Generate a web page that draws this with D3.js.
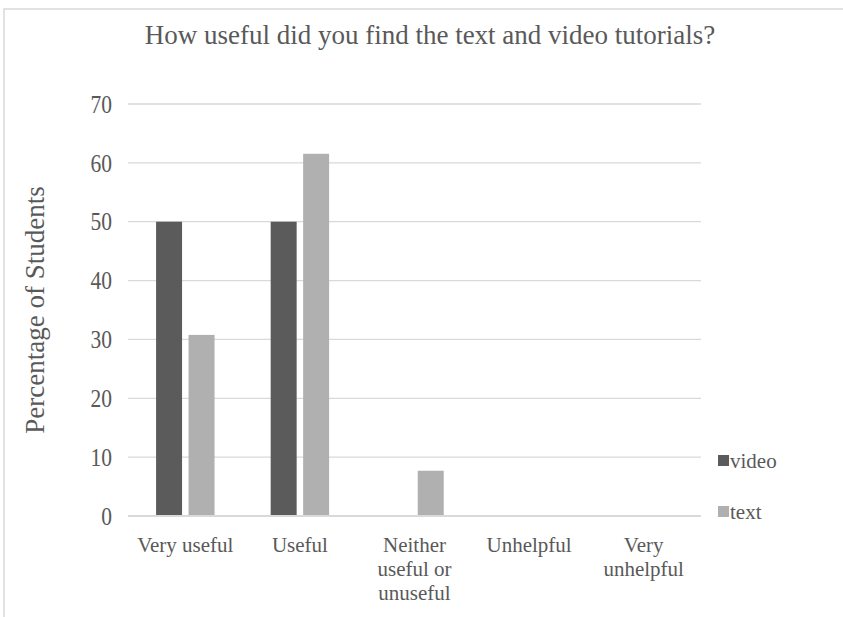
<!DOCTYPE html>
<html>
<head>
<meta charset="utf-8">
<script src="https://cdn.jsdelivr.net/npm/d3@7"></script>
<style>
  body { margin: 0; background: #fff; }
  svg text { font-family: "Liberation Serif", "Times New Roman", serif; fill: #595959; }
</style>
</head>
<body>
<svg id="chart"></svg>
<script>
// ---- data ----
var categories = ["Very useful", "Useful", "Neither useful or unuseful", "Unhelpful", "Very unhelpful"];
var categoryLines = [["Very useful"], ["Useful"], ["Neither", "useful or", "unuseful"], ["Unhelpful"], ["Very", "unhelpful"]];
var seriesNames = ["video", "text"];
var videoValues = [50, 50, 0, 0, 0];
var textValues = [30.77, 61.54, 7.69, 0, 0];
var yTicks = [0, 10, 20, 30, 40, 50, 60, 70];
var colors = {video: "#5b5b5b", text: "#b0b0b0"};

var width = 843, height = 617;
var margin = {top: 104, right: 142, bottom: 101, left: 128};

var svg = d3.select("#chart")
    .attr("width", width)
    .attr("height", height);

// outer chart frame (cut off on right and bottom)
svg.append("rect")
    .attr("x", 4).attr("y", 9)
    .attr("width", width + 20).attr("height", height + 20)
    .attr("fill", "none")
    .attr("stroke", "#d9d9d9")
    .attr("stroke-width", 1.5);

var x0 = d3.scaleBand()
    .domain(categories)
    .range([margin.left, width - margin.right])
    .paddingInner(0.49)
    .paddingOuter(0.245);

var x1 = d3.scaleBand()
    .domain(seriesNames)
    .range([0, x0.bandwidth()])
    .paddingInner(0.2);

var y = d3.scaleLinear()
    .domain([0, 70])
    .range([height - margin.bottom, margin.top]);

// gridlines
svg.append("g")
    .selectAll("line")
    .data(yTicks)
    .enter().append("line")
    .attr("x1", margin.left)
    .attr("x2", width - margin.right)
    .attr("y1", function(d) { return y(d); })
    .attr("y2", function(d) { return y(d); })
    .attr("stroke", "#d9d9d9")
    .attr("stroke-width", function(d) { return d === 0 ? 2 : 1.3; });

// y tick labels (font is a bit condensed in the original)
svg.append("g")
    .selectAll("text")
    .data(yTicks)
    .enter().append("text")
    .attr("transform", function(d) { return "translate(112," + y(d) + ") scale(0.86,1)"; })
    .attr("dy", "0.35em")
    .attr("text-anchor", "end")
    .style("font-size", "25px")
    .text(function(d) { return d; });

// bars
var rows = categories.map(function(c, i) {
  return {cat: c, values: [
    {key: "video", value: videoValues[i]},
    {key: "text", value: textValues[i]}
  ]};
});

var groups = svg.append("g")
    .selectAll("g")
    .data(rows)
    .enter().append("g")
    .attr("transform", function(d) { return "translate(" + x0(d.cat) + ",0)"; });

groups.selectAll("rect")
    .data(function(d) { return d.values.filter(function(v) { return v.value > 0; }); })
    .enter().append("rect")
    .attr("x", function(d) { return x1(d.key); })
    .attr("width", x1.bandwidth())
    .attr("y", function(d) { return y(d.value); })
    .attr("height", function(d) { return y(0) - y(d.value); })
    .attr("fill", function(d) { return colors[d.key]; });

// redraw baseline on top of bars
svg.append("line")
    .attr("x1", margin.left).attr("x2", width - margin.right)
    .attr("y1", y(0)).attr("y2", y(0))
    .attr("stroke", "#d9d9d9").attr("stroke-width", 2);

// category labels
var catLabels = svg.append("g")
    .selectAll("text")
    .data(categories)
    .enter().append("text")
    .attr("x", function(d) { return x0(d) + x0.bandwidth() / 2; })
    .attr("y", 552)
    .attr("text-anchor", "middle")
    .style("font-size", "21px");

catLabels.selectAll("tspan")
    .data(function(d, i) { return categoryLines[i]; })
    .enter().append("tspan")
    .attr("x", function() { var p = d3.select(this.parentNode).datum(); return x0(p) + x0.bandwidth() / 2; })
    .attr("dy", function(d, i) { return i === 0 ? 0 : 24; })
    .text(function(d) { return d; });

// y axis title
svg.append("text")
    .attr("transform", "translate(44," + ((y(0) + y(70)) / 2) + ") rotate(-90)")
    .attr("text-anchor", "middle")
    .style("font-size", "27px")
    .text("Percentage of Students");

// chart title
svg.append("text")
    .attr("x", 430)
    .attr("y", 44)
    .attr("text-anchor", "middle")
    .style("font-size", "27px")
    .text("How useful did you find the text and video tutorials?");

// legend
var legend = svg.append("g")
    .selectAll("g")
    .data(seriesNames)
    .enter().append("g")
    .attr("transform", function(d, i) { return "translate(718," + (461 + i * 51) + ")"; });

legend.append("rect")
    .attr("x", 0).attr("y", -6)
    .attr("width", 11).attr("height", 11)
    .attr("fill", function(d) { return colors[d]; });

legend.append("text")
    .attr("x", 12)
    .attr("y", 0)
    .attr("dy", "0.35em")
    .style("font-size", "21px")
    .text(function(d) { return d; });
</script>
</body>
</html>
